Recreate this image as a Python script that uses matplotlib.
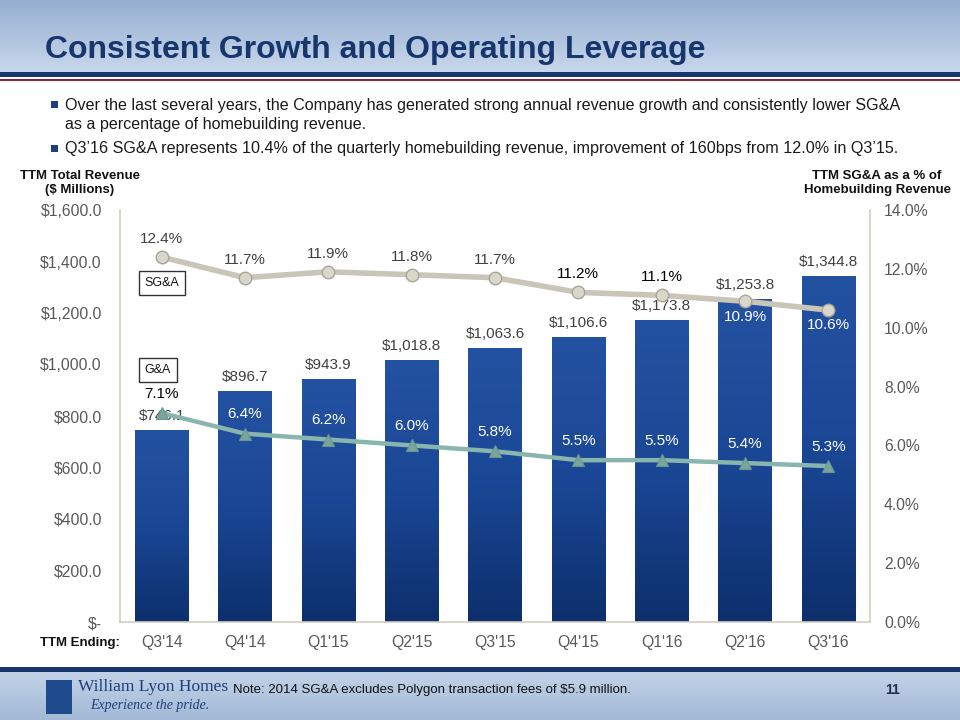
import matplotlib
matplotlib.use('Agg')
import matplotlib.pyplot as plt
import numpy as np
from matplotlib.patches import Rectangle
from matplotlib.colors import LinearSegmentedColormap

plt.rcParams['font.family'] = ['Liberation Sans', 'DejaVu Sans']

# ---------------- data ----------------
quarters = ["Q3'14", "Q4'14", "Q1'15", "Q2'15", "Q3'15", "Q4'15", "Q1'16", "Q2'16", "Q3'16"]
revenue = [746.1, 896.7, 943.9, 1018.8, 1063.6, 1106.6, 1173.8, 1253.8, 1344.8]
sga_pct = [12.4, 11.7, 11.9, 11.8, 11.7, 11.2, 11.1, 10.9, 10.6]
ga_pct = [7.1, 6.4, 6.2, 6.0, 5.8, 5.5, 5.5, 5.4, 5.3]
left_ticks = [0, 200, 400, 600, 800, 1000, 1200, 1400, 1600]
right_ticks = [0, 2, 4, 6, 8, 10, 12, 14]

title = "Consistent Growth and Operating Leverage"
bullets = [
    "Over the last several years, the Company has generated strong annual revenue growth and consistently lower SG&A\nas a percentage of homebuilding revenue.",
    "Q3\u201916 SG&A represents 10.4% of the quarterly homebuilding revenue, improvement of 160bps from 12.0% in Q3\u201915.",
]
note = "Note: 2014 SG&A excludes Polygon transaction fees of $5.9 million."

NAVY = '#17366E'
W, H = 960, 720

fig = plt.figure(figsize=(9.6, 7.2), dpi=100)
fig.patch.set_facecolor('white')

bg = fig.add_axes([0, 0, 1, 1], zorder=-5)
bg.set_xlim(0, W)
bg.set_ylim(H, 0)
bg.axis('off')

grad = np.linspace(0, 1, 200).reshape(-1, 1)
hdr_cmap = LinearSegmentedColormap.from_list('h', ['#95AED0', '#C8D7EB'])
bg.imshow(grad, extent=(0, W, 72, 0), cmap=hdr_cmap, aspect='auto', interpolation='bilinear')
bg.add_patch(Rectangle((0, 72), W, 5, color=NAVY, lw=0))
bg.add_patch(Rectangle((0, 79), W, 1.6, color='#8E2435', lw=0))

ftr_cmap = LinearSegmentedColormap.from_list('f', ['#C3D3E8', '#A2B9D6'])
bg.add_patch(Rectangle((0, 667), W, 4.5, color=NAVY, lw=0))
bg.imshow(grad, extent=(0, W, H, 671.5), cmap=ftr_cmap, aspect='auto', interpolation='bilinear')
bg.set_xlim(0, W)
bg.set_ylim(H, 0)

bg.text(45, 50, title, fontsize=23, fontweight='bold', color=NAVY, va='center', ha='left')

bg.add_patch(Rectangle((51, 101), 7, 7, color='#1F3F7A', lw=0))
bg.text(65, 115, bullets[0], fontsize=11.6, color='#1a1a1a', va='center', ha='left', linespacing=1.35)
bg.add_patch(Rectangle((51, 145), 7, 7, color='#1F3F7A', lw=0))
bg.text(65, 149, bullets[1], fontsize=11.6, color='#1a1a1a', va='center', ha='left')

bg.text(80, 183, "TTM Total Revenue\n($ Millions)", fontsize=9.5, fontweight='bold',
        ha='center', va='center', color='#111111', linespacing=1.15)
bg.text(877, 183, "TTM SG&A as a % of\nHomebuilding Revenue", fontsize=9.5, fontweight='bold',
        ha='center', va='center', color='#111111', linespacing=1.15)
bg.text(80, 643, "TTM Ending:", fontsize=9.5, fontweight='bold', ha='center', va='center', color='#111111')

# footer
bg.add_patch(Rectangle((46, 680), 26, 34, color='#1F4A8C', lw=0))
bg.text(78, 687, "William Lyon Homes", family=['Liberation Serif', 'DejaVu Serif'], fontsize=12.5,
        color='#1F3F7A', va='center', ha='left')
bg.text(90, 706, "Experience the pride.", family=['Liberation Serif', 'DejaVu Serif'], fontsize=10,
        style='italic', color='#1F3F7A', va='center', ha='left')
bg.text(233, 690, note, fontsize=9.5, color='#111111', va='center', ha='left')
bg.text(893, 690, "11", fontsize=10, fontweight='bold', color='#1F2F4F', va='center', ha='center')

# ---------------- chart ----------------
ax = fig.add_axes([120 / W, 1 - 622 / H, 750 / W, 412 / H])
ax.set_facecolor('none')
x = np.arange(len(quarters))
bars = ax.bar(x, revenue, width=0.64, color='#1A4694', zorder=2)
bar_cmap = LinearSegmentedColormap.from_list('b', ['#2452A2', '#1A4795', '#0D2F6C'])
for b in bars:
    im = ax.imshow(grad, extent=(b.get_x(), b.get_x() + b.get_width(), 0, b.get_height()),
                   cmap=bar_cmap, aspect='auto', zorder=2.1, interpolation='bilinear')
    im.set_clip_path(b)
ax.set_xlim(-0.5, len(quarters) - 0.5)
ax.set_ylim(0, 1600)

ax.spines['top'].set_visible(False)
for s in ['left', 'bottom', 'right']:
    ax.spines[s].set_color('#D2CEC2')
    ax.spines[s].set_linewidth(1.2)
ax.set_yticks(left_ticks)
ax.set_yticklabels(["$-" if v == 0 else f"${v:,.1f}" for v in left_ticks])
ax.set_xticks(x)
ax.set_xticklabels(quarters)
ax.tick_params(axis='y', length=0, pad=13, labelsize=11.3, labelcolor='#595959')
ax.tick_params(axis='x', length=0, pad=9, labelsize=11.3, labelcolor='#595959')

for i, v in enumerate(revenue):
    ax.annotate(f"${v:,.1f}", (i, v), xytext=(0, 5), textcoords='offset points',
                ha='center', va='bottom', fontsize=11, color='#404040', zorder=5)

ax2 = ax.twinx()
ax2.set_ylim(0, 14)
for s in ['top', 'left', 'bottom', 'right']:
    ax2.spines[s].set_visible(False)
ax2.set_yticks(right_ticks)
ax2.set_yticklabels([f"{v:.1f}%" for v in right_ticks])
ax2.tick_params(axis='y', length=0, pad=10, labelsize=11.3, labelcolor='#595959')

ax2.plot(x, sga_pct, color='#C9C6B8', lw=4, zorder=3, solid_capstyle='round',
         marker='o', markersize=9, markerfacecolor='#D9D6CB', markeredgecolor='#A9A597', markeredgewidth=1)
ax2.plot(x, ga_pct, color='#88B6AF', lw=3.2, zorder=3,
         marker='^', markersize=9, markerfacecolor='#78A69E', markeredgecolor='#6A968F', markeredgewidth=0.8)

n = len(quarters)
for i, v in enumerate(sga_pct):
    if i >= n - 2:
        ax2.annotate(f"{v:.1f}%", (i, v), xytext=(0, -11), textcoords='offset points',
                     ha='center', va='center', fontsize=11, color='white', zorder=6)
    else:
        col = 'black' if i in (n - 4, n - 3) else '#404040'
        ax2.annotate(f"{v:.1f}%", (i, v), xytext=(0, 13), textcoords='offset points',
                     ha='center', va='center', fontsize=11, color=col, zorder=6)

for i, v in enumerate(ga_pct):
    col = 'black' if i == 0 else 'white'
    ax2.annotate(f"{v:.1f}%", (i, v), xytext=(0, 14), textcoords='offset points',
                 ha='center', va='center', fontsize=11, color=col, zorder=6)

fig.text(162 / W, 1 - 283 / H, "SG&A", fontsize=9, ha='center', va='center', color='#111111',
         bbox=dict(boxstyle='square,pad=0.45', fc='white', ec='#333333', lw=1))
fig.text(158 / W, 1 - 370 / H, "G&A", fontsize=9, ha='center', va='center', color='#111111',
         bbox=dict(boxstyle='square,pad=0.45', fc='white', ec='#333333', lw=1))

fig.savefig('out.png', dpi=100)
